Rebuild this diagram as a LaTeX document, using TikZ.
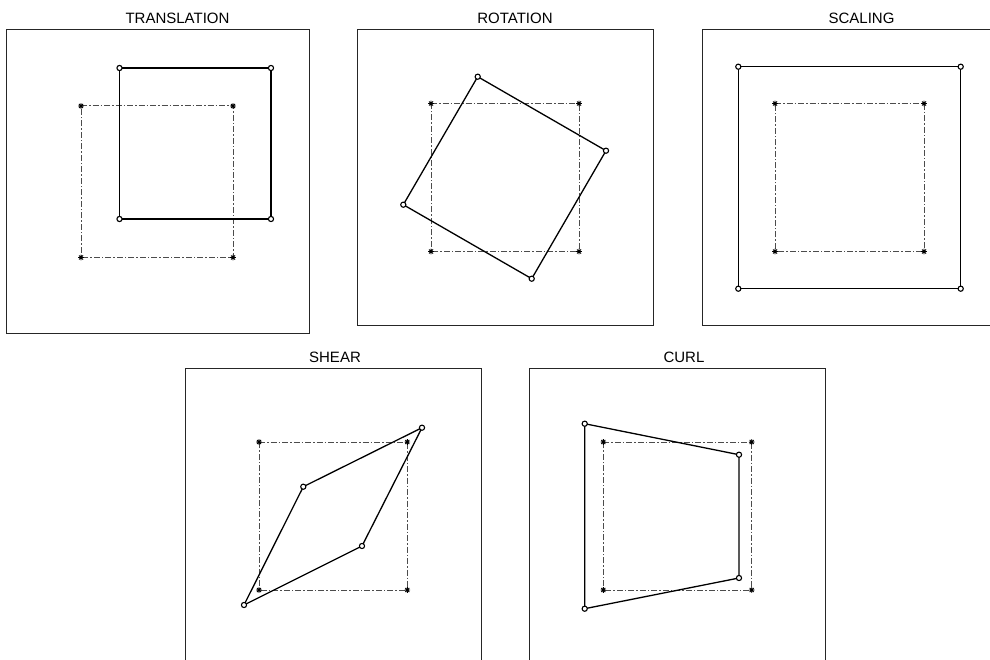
\documentclass[tikz,border=0pt]{standalone}
\usepackage{fontspec}
\setmainfont{Liberation Sans}
\tikzset{
  frame/.style={draw=black!85, line width=1pt},
  xform/.style={draw=black, line width=1.3pt, line join=miter},
  orig/.style={draw=black!70, line width=1pt, dash pattern=on 6pt off 2pt on 1.5pt off 2pt},
  ttl/.style={font=\fontsize{15}{18}\selectfont, inner sep=0pt, anchor=center},
  circmark/.style={draw=black, line width=1.1pt, fill=white},
  astmark/.style={draw=black, line width=0.9pt},
}
\newcommand{\cmark}[1]{\path[circmark] (#1) circle (2.6);}
\newcommand{\amark}[1]{\fill[black] (#1) circle (1.6);
  \draw[astmark, shift={(#1)}] (-2.8,0) -- (2.8,0) (0,-2.8) -- (0,2.8) (-2,-2) -- (2,2) (-2,2) -- (2,-2);}
\begin{document}
\begin{tikzpicture}[x=1pt, y=-1pt]
\path[use as bounding box] (0,0) rectangle (990,660);
\clip (0,0) rectangle (990,660);
\fill[white] (0,0) rectangle (990,660);

% ---------- TRANSLATION ----------
\node[ttl] (t1) at (177.5,18.5) {TRANSLATION};
\draw[frame] (6,30) rectangle (309,333);
\coordinate (o1a) at (81,106);   \coordinate (o1b) at (233,106);
\coordinate (o1c) at (233,257.5); \coordinate (o1d) at (81,257.5);
\coordinate (n1a) at (119.5,68);  \coordinate (n1b) at (271,68);
\coordinate (n1c) at (271,219);   \coordinate (n1d) at (119.5,219);
\draw[orig] (o1a) -- (o1b) -- (o1c) -- (o1d) -- cycle;
\draw[xform] (n1a) -- (n1b) -- (n1c) -- (n1d) -- cycle;
\amark{o1a}\amark{o1b}\amark{o1c}\amark{o1d}
\cmark{n1a}\cmark{n1b}\cmark{n1c}\cmark{n1d}

% ---------- ROTATION ----------
\node[ttl] (t2) at (515,18.5) {ROTATION};
\draw[frame] (357,29.5) rectangle (653.5,325);
\coordinate (o2a) at (431,103.5);  \coordinate (o2b) at (579,103.5);
\coordinate (o2c) at (579,251.5);  \coordinate (o2d) at (431,251.5);
\coordinate (n2a) at (477.7,76.7); \coordinate (n2b) at (606,150.7);
\coordinate (n2c) at (531.7,278.7); \coordinate (n2d) at (403.3,204.7);
\draw[orig] (o2a) -- (o2b) -- (o2c) -- (o2d) -- cycle;
\draw[xform] (n2a) -- (n2b) -- (n2c) -- (n2d) -- cycle;
\amark{o2a}\amark{o2b}\amark{o2c}\amark{o2d}
\cmark{n2a}\cmark{n2b}\cmark{n2c}\cmark{n2d}

% ---------- SCALING ----------
\node[ttl] (t3) at (861.5,18.5) {SCALING};
\draw[frame] (702,29.5) rectangle (997,325);
\coordinate (o3a) at (775,103.5);  \coordinate (o3b) at (924,103.5);
\coordinate (o3c) at (924,251.5);  \coordinate (o3d) at (775,251.5);
\coordinate (n3a) at (738.3,66.7); \coordinate (n3b) at (960.7,66.7);
\coordinate (n3c) at (960.7,288.7); \coordinate (n3d) at (738.3,288.7);
\draw[orig] (o3a) -- (o3b) -- (o3c) -- (o3d) -- cycle;
\draw[xform] (n3a) -- (n3b) -- (n3c) -- (n3d) -- cycle;
\amark{o3a}\amark{o3b}\amark{o3c}\amark{o3d}
\cmark{n3a}\cmark{n3b}\cmark{n3c}\cmark{n3d}

% ---------- SHEAR ----------
\node[ttl] (t4) at (335,357.5) {SHEAR};
\draw[frame] (185,368.5) rectangle (481.5,664);
\coordinate (o4a) at (259,442);    \coordinate (o4b) at (407.3,442);
\coordinate (o4c) at (407.3,590);  \coordinate (o4d) at (259,590);
\coordinate (n4a) at (244,605);    \coordinate (n4b) at (303.3,486.7);
\coordinate (n4c) at (422,427.7);  \coordinate (n4d) at (362,546);
\draw[orig] (o4a) -- (o4b) -- (o4c) -- (o4d) -- cycle;
\draw[xform] (n4a) -- (n4b) -- (n4c) -- (n4d) -- cycle;
\amark{o4a}\amark{o4b}\amark{o4c}\amark{o4d}
\cmark{n4a}\cmark{n4b}\cmark{n4c}\cmark{n4d}

% ---------- CURL ----------
\node[ttl] (t5) at (684,357.5) {CURL};
\draw[frame] (529.5,368.5) rectangle (825,664);
\coordinate (o5a) at (603.3,442);  \coordinate (o5b) at (751.7,442);
\coordinate (o5c) at (751.7,590);  \coordinate (o5d) at (603.3,590);
\coordinate (n5a) at (584.7,423.7); \coordinate (n5b) at (739,454.7);
\coordinate (n5c) at (739,578);    \coordinate (n5d) at (584.7,608.7);
\draw[orig] (o5a) -- (o5b) -- (o5c) -- (o5d) -- cycle;
\draw[xform] (n5a) -- (n5b) -- (n5c) -- (n5d) -- cycle;
\amark{o5a}\amark{o5b}\amark{o5c}\amark{o5d}
\cmark{n5a}\cmark{n5b}\cmark{n5c}\cmark{n5d}
\end{tikzpicture}
\end{document}
